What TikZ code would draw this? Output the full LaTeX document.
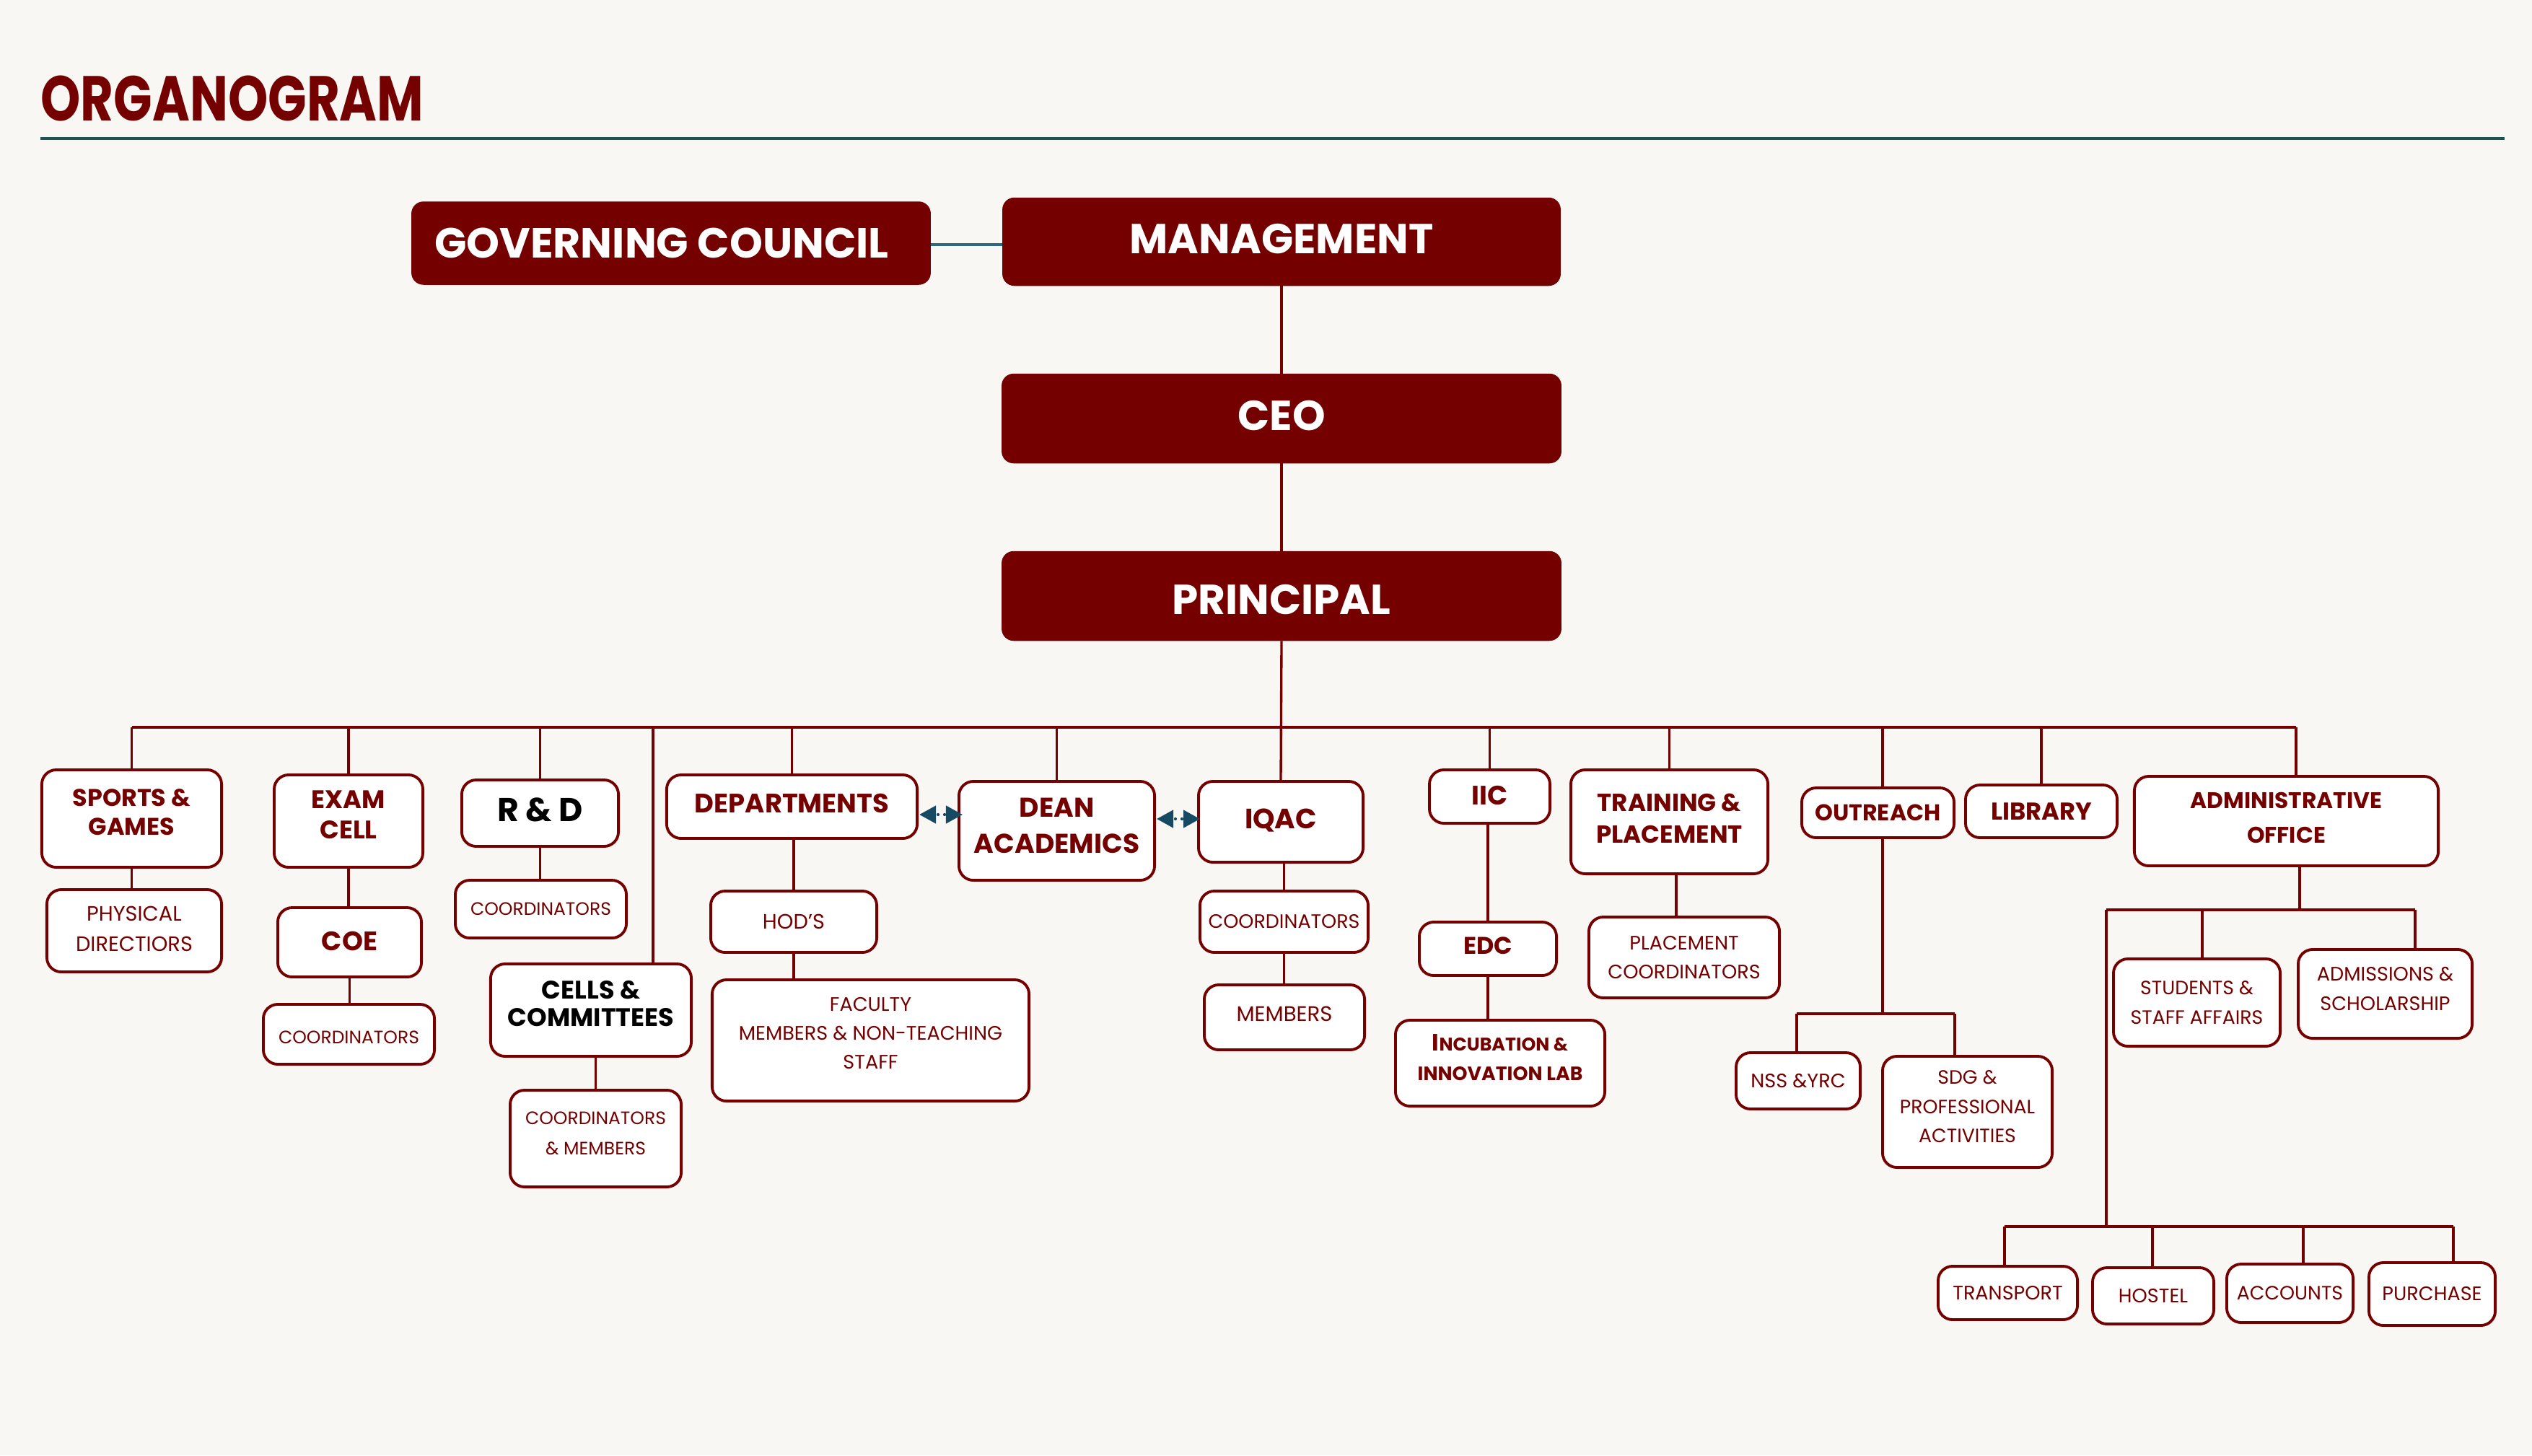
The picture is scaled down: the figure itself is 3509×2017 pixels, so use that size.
\documentclass[tikz,border=0pt]{standalone}
\usepackage{fontspec}
\usepackage{graphicx}
\setmainfont{Poppins}
\usetikzlibrary{arrows.meta}
\definecolor{maroon}{HTML}{750000}
\definecolor{bgc}{HTML}{F9F7F4}
\definecolor{rulec}{HTML}{1F5352}
\definecolor{arrowc}{HTML}{164A63}
\definecolor{gcline}{HTML}{2B6A80}
\newcommand{\fs}[1]{\fontsize{#1}{1.2\dimexpr #1pt\relax}\selectfont}
\def\liftamt{0pt}
\newcommand{\rl}[1]{\raisebox{\liftamt}[\height][\depth]{#1}}
\tikzset{
  topbox/.style={fill=maroon, draw=maroon, rounded corners=0.16cm, inner sep=0pt, text=white, font=\bfseries\fontsize{16.5}{20}\selectfont},
  hbox/.style={draw=maroon, fill=white, line width=1.1pt, rounded corners=0.2cm, inner sep=0pt, align=center, text=maroon, font=\bfseries\fontsize{10.5}{12.5}\selectfont},
  sbox/.style={hbox, font=\fontsize{7.7}{11.5}\selectfont},
  sz/.style 2 args={minimum width=#1cm, minimum height=#2cm},
  lift/.style={execute at begin node={\def\liftamt{#1cm}}},
  conn/.style={draw=maroon, line width=0.95pt},
  biarrow/.style={draw=arrowc, line width=1.2pt, line cap=round, dash pattern=on 0pt off 0.09cm, dash phase=0.05cm, {Triangle[length=0.23cm,width=0.24cm]}-{Triangle[length=0.23cm,width=0.24cm]}}
}
\begin{document}
\begin{tikzpicture}[x=0.01cm,y=-0.01cm]
\fill[bgc] (0,0) rectangle (3509,2017);
\useasboundingbox (0,0) rectangle (3509,2017);

% title
\node[anchor=base west, inner sep=0pt, text=maroon, font=\bfseries\fontsize{25}{28}\selectfont] (title) at (56,167) {\scalebox{0.8}[1]{ORGANOGRAM}};
\coordinate (r1) at (56,192);
\coordinate (r2) at (3471,192);
\draw[rulec, line width=1.3pt] (r1) -- (r2);

% top boxes
\node[topbox, sz={7.18}{1.14}, font=\bfseries\fontsize{16.6}{20}\selectfont] (gc) at (930,337) {\hspace*{-0.26cm}GOVERNING COUNCIL};
\node[topbox, sz={7.72}{1.21}, lift=0.04] (mgmt) at (1776,335) {\rl{MANAGEMENT}};
\node[topbox, sz={7.74}{1.23}, lift=0.04] (ceo) at (1776,580) {\rl{CEO}};
\node[topbox, sz={7.74}{1.23}, lift=-0.05] (princ) at (1776,826) {\rl{PRINCIPAL}};

\coordinate (gcy) at (0,339);
\draw[gcline, line width=1.2pt] (gc.east |- gcy) -- (mgmt.west |- gcy);

% level 1
\node[hbox, sz={2.49}{1.35}, font=\bfseries\fs{9.5}, lift=0.09] (sports) at (182.5,1134.5) {\rl{SPORTS \&}\\\rl{GAMES}};
\node[hbox, sz={2.06}{1.28}, font=\bfseries\fs{10}, lift=0.09] (exam) at (483,1138) {\rl{EXAM}\\\rl{CELL}};
\node[hbox, sz={2.17}{0.92}, text=black, font=\bfseries\fs{13}, lift=0.045] (rnd) at (748.5,1127) {\rl{R \& D}};
\node[hbox, sz={3.47}{0.88}, lift=0.045] (dept) at (1097.5,1118) {\rl{DEPARTMENTS}};
\node[hbox, sz={2.71}{1.37}, font=\bfseries\fontsize{10.7}{14}\selectfont, lift=0.07] (dean) at (1464.5,1151.5) {\rl{DEAN}\\\rl{ACADEMICS}};
\node[hbox, sz={2.28}{1.12}, font=\bfseries\fs{11}, lift=0.02] (iqac) at (1775,1139) {\rl{IQAC}};
\node[hbox, sz={1.67}{0.74}, lift=0.02] (iic) at (2064.5,1104) {\rl{IIC}};
\node[hbox, sz={2.73}{1.44}, font=\bfseries\fontsize{9.7}{12.5}\selectfont, lift=0.045] (train) at (2313.5,1139) {\rl{TRAINING \&}\\\rl{PLACEMENT}};
\node[hbox, sz={2.11}{0.69}, font=\bfseries\fs{9}] (outreach) at (2602.5,1126.5) {OUTREACH};
\node[hbox, sz={2.10}{0.73}, font=\bfseries\fs{9.6}] (library) at (2829,1124.5) {LIBRARY};
\node[hbox, sz={4.21}{1.24}, font=\bfseries\fontsize{8.9}{13.5}\selectfont, lift=0.045] (admin) at (3168.5,1138) {\rl{ADMINISTRATIVE}\\\rl{OFFICE}};

% level 2+
\node[sbox, sz={2.42}{1.14}, font=\fontsize{8.2}{12}\selectfont, lift=0.03] (phys) at (186,1290) {\rl{PHYSICAL}\\\rl{DIRECTIORS}};
\node[hbox, sz={1.99}{0.96}, lift=0.02] (coe) at (484.5,1306) {\rl{COE}};
\node[sbox, sz={2.37}{0.83}, font=\fs{7.1}, lift=-0.04] (coecoord) at (483.5,1433.5) {\rl{COORDINATORS}};
\node[sbox, sz={2.37}{0.80}, font=\fs{7.1}] (rndcoord) at (749.5,1260) {COORDINATORS};
\node[hbox, sz={2.78}{1.28}, text=black, font=\bfseries\fontsize{10}{11}\selectfont, lift=0.09] (cells) at (819,1400) {\rl{CELLS \&}\\\rl{COMMITTEES}};
\node[sbox, sz={2.37}{1.34}, font=\fontsize{7.1}{12}\selectfont, lift=0.07] (cellsmem) at (825.5,1578) {\rl{COORDINATORS}\\\rl{\& MEMBERS}};
\node[sbox, sz={2.30}{0.85}, font=\fs{8.2}] (hod) at (1100,1277.5) {HOD’S};
\node[sbox, sz={4.39}{1.68}, lift=0.1] (faculty) at (1206.5,1442) {\rl{FACULTY}\\\rl{MEMBERS \& NON-TEACHING}\\\rl{STAFF}};
\node[sbox, sz={2.33}{0.85}, font=\fs{7.65}] (iqaccoord) at (1779.5,1277.5) {COORDINATORS};
\node[sbox, sz={2.22}{0.90}, font=\fs{8.3}, lift=0.045] (members) at (1780,1410) {\rl{MEMBERS}};
\node[hbox, sz={1.90}{0.74}, font=\bfseries\fs{9.5}, lift=0.045] (edc) at (2062,1315) {\rl{EDC}};
\node[hbox, sz={2.90}{1.19}, font=\bfseries\fontsize{7.6}{11.5}\selectfont, lift=0.08] (incub) at (2079,1473.5) {\rl{{\fontsize{9.3}{11.5}\selectfont I}{\fontsize{7.2}{11.5}\selectfont NCUBATION \&}}\\\rl{INNOVATION LAB}};
\node[sbox, sz={2.64}{1.12}] (placecoord) at (2334,1327) {PLACEMENT\\COORDINATORS};
\node[sbox, sz={1.72}{0.78}] (nss) at (2492,1498) {NSS \&YRC};
\node[sbox, sz={2.35}{1.54}, font=\fontsize{7.6}{11.5}\selectfont, lift=0.07] (sdg) at (2726.5,1541) {\rl{SDG \&}\\\rl{PROFESSIONAL}\\\rl{ACTIVITIES}};
\node[sbox, sz={2.31}{1.21}, font=\fontsize{7.6}{11.5}\selectfont] (students) at (3044.5,1389.5) {STUDENTS \&\\STAFF AFFAIRS};
\node[sbox, sz={2.41}{1.23}, lift=0.07] (admis) at (3305.5,1377.5) {\rl{ADMISSIONS \&}\\\rl{SCHOLARSHIP}};
\node[sbox, sz={1.93}{0.74}] (transport) at (2782.5,1792) {TRANSPORT};
\node[sbox, sz={1.68}{0.78}] (hostel) at (2984,1796) {HOSTEL};
\node[sbox, sz={1.75}{0.81}, font=\fs{7.6}] (accounts) at (3173.5,1792.5) {ACCOUNTS};
\node[sbox, sz={1.75}{0.87}] (purchase) at (3370.5,1793.5) {PURCHASE};

% spine
\draw[conn] (mgmt.south) -- (ceo.north);
\draw[conn] (ceo.south) -- (princ.north);
\draw[conn] (princ.south) -- (iqac.north);

% bus
\coordinate (bus) at (0,1008);
\coordinate (adrop) at (3182,1008);
\coordinate (cdrop) at (905,1008);
\draw[conn] (sports.north |- bus) -- (adrop);
\foreach \n in {sports,exam,rnd,dept,dean,iic,train,library}{
  \draw[conn] (\n.north) -- (\n.north |- bus);
}
\draw[conn] (adrop) -- (adrop |- admin.north);
\draw[conn] (cdrop) -- (cdrop |- cells.north);
\coordinate (odrop) at (2609,1008);
\draw[conn] (odrop) -- (odrop |- outreach.north);

% sub connectors
\draw[conn] (sports.south) -- (sports.south |- phys.north);
\draw[conn] (exam.south) -- (exam.south |- coe.north);
\draw[conn] (coe.south) -- (coe.south |- coecoord.north);
\draw[conn] (rnd.south) -- (rnd.south |- rndcoord.north);
\draw[conn] (cellsmem.north) -- (cellsmem.north |- cells.south);
\draw[conn] (hod.north) -- (hod.north |- dept.south);
\draw[conn] (hod.south) -- (hod.south |- faculty.north);
\draw[conn] (iqaccoord.north) -- (iqaccoord.north |- iqac.south);
\draw[conn] (iqaccoord.south) -- (iqaccoord.south |- members.north);
\draw[conn] (edc.north) -- (edc.north |- iic.south);
\draw[conn] (edc.south) -- (edc.south |- incub.north);
\coordinate (tdrop) at (2323,1300);
\draw[conn] (tdrop |- train.south) -- (tdrop |- placecoord.north);

% outreach subtree
\coordinate (o1) at (2609,1405);
\coordinate (nssd) at (2490,1405);
\coordinate (sdgd) at (2709,1405);
\draw[conn] (o1 |- outreach.south) -- (o1);
\draw[conn] (nssd) -- (sdgd);
\draw[conn] (nssd) -- (nssd |- nss.north);
\draw[conn] (sdgd) -- (sdgd |- sdg.north);

% admin subtree
\coordinate (a1) at (3187,1261);
\coordinate (aL) at (2919,1261);
\coordinate (aS) at (3052,1261);
\coordinate (aR) at (3347,1261);
\draw[conn] (a1 |- admin.south) -- (a1);
\draw[conn] (aL) -- (aR);
\draw[conn] (aS) -- (aS |- students.north);
\draw[conn] (aR) -- (aR |- admis.north);
\coordinate (bL) at (2919,1700);
\draw[conn] (aL) -- (bL);
\coordinate (b1) at (2778,1700);
\coordinate (b2) at (2983,1700);
\coordinate (b3) at (3192,1700);
\coordinate (b4) at (3400,1700);
\draw[conn] (b1) -- (b4);
\draw[conn] (b1) -- (b1 |- transport.north);
\draw[conn] (b2) -- (b2 |- hostel.north);
\draw[conn] (b3) -- (b3 |- accounts.north);
\draw[conn] (b4) -- (b4 |- purchase.north);

% arrows
\coordinate (ar1) at (0,1129);
\coordinate (ar2) at (0,1135);
\draw[biarrow] ([xshift=0.01cm]dept.east |- ar1) -- ([xshift=0.07cm]dean.west |- ar1);
\draw[biarrow] ([xshift=0.01cm]dean.east |- ar2) -- ([xshift=0.04cm]iqac.west |- ar2);
\end{tikzpicture}
\end{document}
